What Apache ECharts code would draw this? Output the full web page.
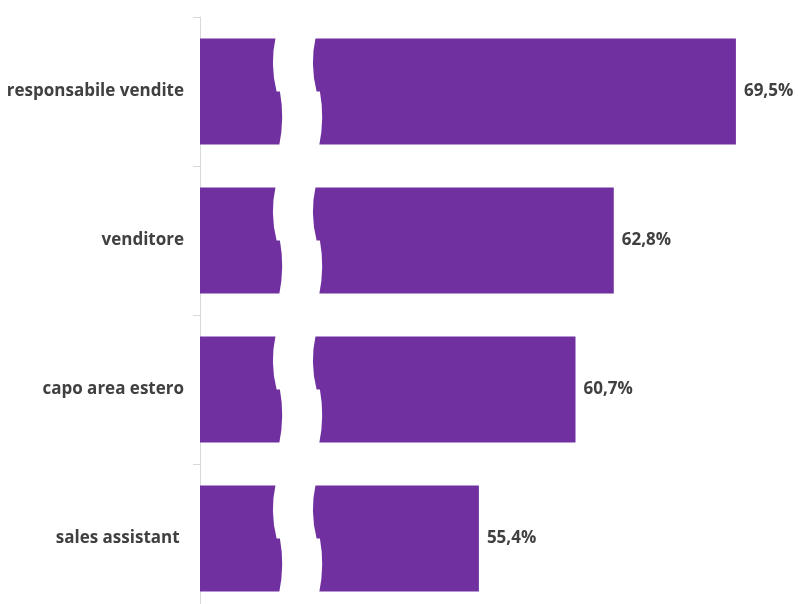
<!DOCTYPE html>
<html>
<head>
<meta charset="utf-8">
<script src="https://cdn.jsdelivr.net/npm/echarts@6/dist/echarts.min.js"></script>
<style>
  html, body { margin: 0; padding: 0; background: #fff; }
  #chart { width: 798px; height: 604px; }
</style>
</head>
<body>
<div id="chart"></div>
<script>
// Roles and the share of respondents for each one
const categories = ['responsabile vendite', 'venditore', 'capo area estero', 'sales assistant '];
const values = [69.5, 62.8, 60.7, 55.4];

// Axis range of the value scale (left edge of the bars) and where the break sits
const AXIS_MIN = 40.1;
const AXIS_MAX = 72.1;
const BREAK_AT = 44.1;

const PURPLE = '#7030A0';
const TEXT = '#404040';
const FONT = 'Open Sans';

const chart = echarts.init(document.getElementById('chart'), null, { renderer: 'canvas' });

// White wavy band that cuts every bar to show the broken scale
function renderBreak(params, api) {
  const idx = api.value(1);
  const c = api.coord([api.value(0), idx]);
  const band = api.size([0, 1])[1];
  const h = band * 0.71;
  const top = c[1] - h / 2 - 1;
  const bot = c[1] + h / 2 + 1;
  const mid = c[1];
  const x = c[0];
  const w = 40;
  const q = (top + mid) / 2;
  const r = (mid + bot) / 2;
  const path =
    'M' + (x + 2.7) + ' ' + top +
    ' Q' + (x - 3.2) + ' ' + q + ' ' + (x + 3.7) + ' ' + mid +
    ' L' + (x + 7) + ' ' + mid +
    ' Q' + (x + 11.95) + ' ' + r + ' ' + (x + 6.3) + ' ' + bot +
    ' L' + (x + w + 6.3) + ' ' + bot +
    ' Q' + (x + w + 11.95) + ' ' + r + ' ' + (x + w + 7) + ' ' + mid +
    ' L' + (x + w + 3.7) + ' ' + mid +
    ' Q' + (x + w - 3.2) + ' ' + q + ' ' + (x + w + 2.7) + ' ' + top +
    ' Z';
  return {
    type: 'path',
    shape: { pathData: path },
    style: { fill: '#ffffff' }
  };
}

chart.setOption({
  animation: false,
  backgroundColor: '#ffffff',
  grid: { left: 200, top: 17, width: 583.3, bottom: -9, outerBoundsMode: 'none', containLabel: false },
  xAxis: {
    type: 'value',
    min: AXIS_MIN,
    max: AXIS_MAX,
    startValue: AXIS_MIN,
    show: false
  },
  yAxis: {
    type: 'category',
    data: categories,
    inverse: true,
    axisLine: { show: true, lineStyle: { color: '#D9D9D9', width: 1 } },
    axisTick: { show: true, length: 7, lineStyle: { color: '#D9D9D9' } },
    axisLabel: {
      color: TEXT,
      fontFamily: FONT,
      fontWeight: 'bold',
      fontSize: 17,
      margin: 16
    },
    splitLine: { show: false }
  },
  series: [
    {
      type: 'bar',
      data: values,
      barWidth: '71%',
      clip: true,
      itemStyle: { color: PURPLE },
      label: {
        show: true,
        position: 'right',
        distance: 8,
        color: TEXT,
        fontFamily: FONT,
        fontWeight: 'bold',
        fontSize: 17,
        formatter: p => p.value.toFixed(1).replace('.', ',') + '%'
      },
      z: 2
    },
    {
      type: 'custom',
      renderItem: renderBreak,
      data: categories.map((c, i) => [BREAK_AT, i]),
      encode: { x: 0, y: 1 },
      clip: false,
      silent: true,
      z: 3
    }
  ]
});
</script>
</body>
</html>
